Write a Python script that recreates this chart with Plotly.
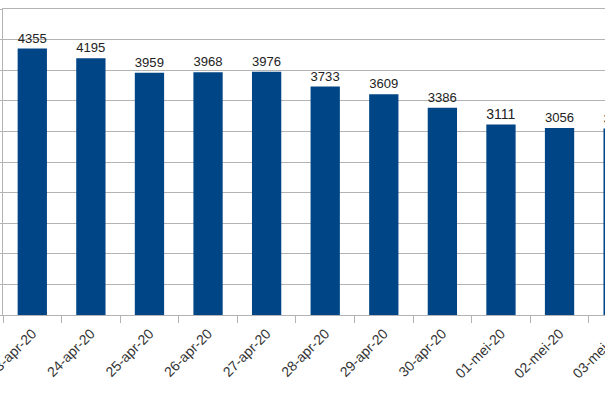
import plotly.graph_objects as go

# daily values, 23 april - 03 mei 2020
dates = ['23-apr-20', '24-apr-20', '25-apr-20', '26-apr-20', '27-apr-20', '28-apr-20',
         '29-apr-20', '30-apr-20', '01-mei-20', '02-mei-20', '03-mei-20']
counts = [4355, 4195, 3959, 3968, 3976, 3733, 3609, 3386, 3111, 3056, 3049]

bar_color = '#004586'
grid_color = '#b3b3b3'

bars = go.Bar(
    x=dates,
    y=counts,
    marker=dict(color=bar_color, line=dict(width=0)),
    width=0.5,
    text=counts,
    textposition='outside',
    cliponaxis=False,
    textfont=dict(family='Liberation Sans', size=14, color='#222222'),
)

# the chart is wider than the window, the right part falls off the page
layout = go.Layout(
    width=665,
    height=403,
    margin=dict(l=3, r=0, t=9, b=88),
    plot_bgcolor='white',
    paper_bgcolor='white',
    showlegend=False,
    bargap=0.5,
    xaxis=dict(
        type='category',
        range=[-0.5, 10.8],
        automargin=False,
        tickson='boundaries',
        ticks='outside',
        ticklen=7,
        tickcolor=grid_color,
        tickangle=-45,
        ticklabelstandoff=4,
        tickfont=dict(family='Liberation Sans', size=14, color='#333333'),
        showline=True,
        mirror=True,
        linecolor=grid_color,
        showgrid=False,
    ),
    yaxis=dict(
        range=[0, 5000],
        dtick=500,
        automargin=False,
        showticklabels=False,
        showgrid=True,
        gridcolor=grid_color,
        gridwidth=1,
        zeroline=False,
        showline=True,
        linecolor=grid_color,
        ticks='outside',
        ticklen=4,
        tickcolor=grid_color,
    ),
)

fig = go.Figure(data=[bars], layout=layout)
fig.write_html(
    "out.html",
    config={'displayModeBar': False},
    post_script="document.body.style.margin='0'; document.body.style.overflow='hidden';",
)
